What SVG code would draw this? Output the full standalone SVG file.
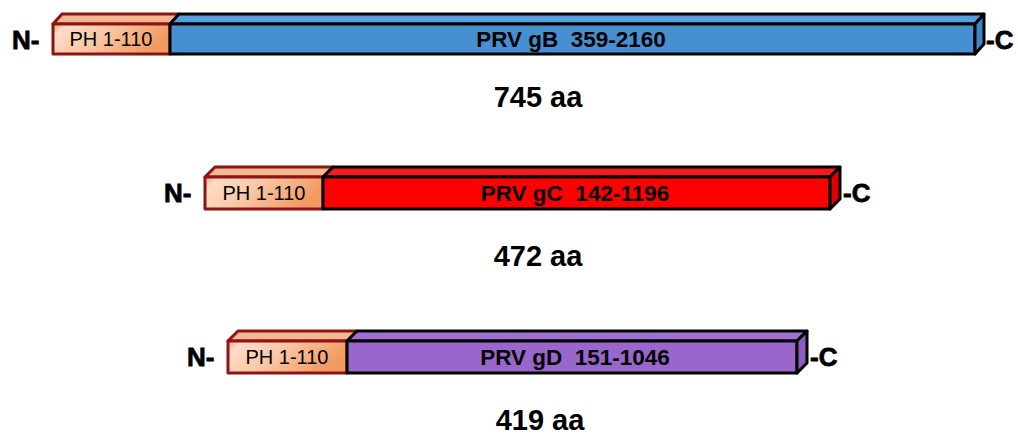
<svg xmlns="http://www.w3.org/2000/svg" width="1018" height="434" viewBox="0 0 1018 434">
<defs>
<linearGradient id="ph" x1="0" y1="0" x2="1" y2="0.3">
<stop offset="0" stop-color="#f4a47a"/>
<stop offset="0.12" stop-color="#fcdcc8"/>
<stop offset="0.5" stop-color="#f9c6a2"/>
<stop offset="1" stop-color="#f29a62"/>
</linearGradient>
<style>
.ph{fill:url(#ph);stroke:#8e1414;stroke-width:3;stroke-linejoin:round}
.phtop{fill:#f5b792;stroke:#8e1414;stroke-width:3;stroke-linejoin:round}
.bx{stroke:#000;stroke-width:3;stroke-linejoin:round}
.t{font-family:"Liberation Sans",Arial,sans-serif;fill:#000}
.in{font-size:22.5px;font-weight:bold;text-anchor:middle}
.pht{font-size:20px;text-anchor:middle}
.end{font-size:26px;font-weight:bold;stroke:#000;stroke-width:0.8}
.aa{font-size:29px;font-weight:bold;text-anchor:middle}
</style>
</defs>
<rect width="1018" height="434" fill="#fff"/>

<g id="gB">
<polygon class="phtop" points="53,24 62,14 179,14 170,24"/>
<rect class="ph" x="53" y="24" width="117" height="30"/>
<polygon class="bx" fill="#5a9fdc" points="170,24 179,14 984,14 975,24"/>
<rect class="bx" fill="#4690d2" x="170" y="24" width="805" height="30"/>
<polygon class="bx" fill="#3f86c6" points="975,24 984,14 984,44 975,54"/>
<text class="t pht" x="111" y="46">PH 1-110</text>
<text class="t in" x="571" y="47" xml:space="preserve">PRV gB  359-2160</text>
<text class="t end" x="12" y="49">N-</text>
<text class="t end" x="986" y="49">-C</text>
<text class="t aa" x="538" y="107">745 aa</text>
</g>

<g id="gC">
<polygon class="phtop" points="205,177 215,167 333,167 323,177"/>
<rect class="ph" x="205" y="177" width="118" height="32"/>
<polygon class="bx" fill="#f21c1c" points="323,177 333,167 840,167 830,177"/>
<rect class="bx" fill="#ff0000" x="323" y="177" width="507" height="32"/>
<polygon class="bx" fill="#e00000" points="830,177 840,167 840,199 830,209"/>
<text class="t pht" x="264" y="200">PH 1-110</text>
<text class="t in" x="575" y="201" xml:space="preserve">PRV gC  142-1196</text>
<text class="t end" x="164" y="202">N-</text>
<text class="t end" x="843" y="202">-C</text>
<text class="t aa" x="538" y="266">472 aa</text>
</g>

<g id="gD">
<polygon class="phtop" points="228,341 238,331 357,331 347,341"/>
<rect class="ph" x="228" y="341" width="119" height="32"/>
<polygon class="bx" fill="#a070d4" points="347,341 357,331 807,331 797,341"/>
<rect class="bx" fill="#9966cc" x="347" y="341" width="450" height="32"/>
<polygon class="bx" fill="#8c5cc0" points="797,341 807,331 807,363 797,373"/>
<text class="t pht" x="287" y="364">PH 1-110</text>
<text class="t in" x="575" y="365" xml:space="preserve">PRV gD  151-1046</text>
<text class="t end" x="187" y="366">N-</text>
<text class="t end" x="810" y="366">-C</text>
<text class="t aa" x="540" y="430">419 aa</text>
</g>

<g id="connectors"></g>
</svg>
